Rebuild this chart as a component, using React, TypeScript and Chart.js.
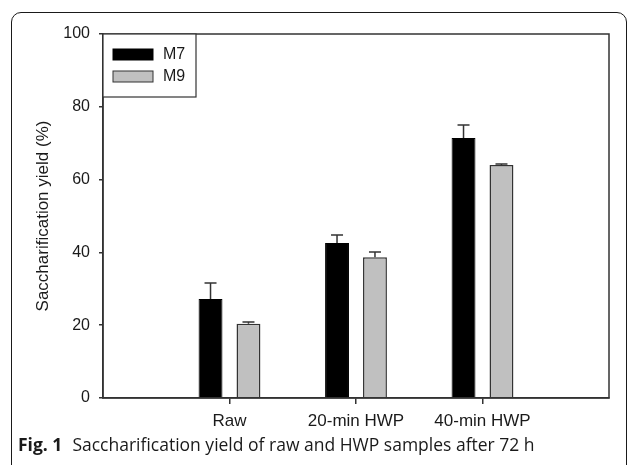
import React, { useEffect, useRef } from "react";
import { Chart, registerables } from "chart.js";

Chart.register(...registerables);

const categories = ["Raw", "20-min HWP", "40-min HWP"];
const m7Values = [27.2, 42.6, 71.4];
const m7Errors = [4.4, 2.2, 3.6];
const m9Values = [20.4, 38.7, 64.0];
const m9Errors = [0.5, 1.4, 0.3];
const seriesNames = ["M7", "M9"];
const yMin = 0;
const yMax = 100;
const yStep = 20;

const AXIS_COLOR = "#333333";
const FONT = "'Liberation Sans', Arial, sans-serif";

export default function App() {
  const canvasRef = useRef<HTMLCanvasElement | null>(null);

  useEffect(() => {
    const canvas = canvasRef.current;
    if (!canvas) return;

    const labels = ["", ...categories, ""];
    const pad = (arr: number[]) => [null, ...arr, null];
    const errs = [pad(m7Errors), pad(m9Errors)];

    const frameBox = {
      id: "frameBox",
      afterDatasetsDraw(chart: any) {
        const { ctx, chartArea } = chart;
        const yScale = chart.scales.y;
        ctx.save();
        ctx.strokeStyle = AXIS_COLOR;
        ctx.lineWidth = 1.5;
        chart.data.datasets.forEach((ds: any, di: number) => {
          const meta = chart.getDatasetMeta(di);
          meta.data.forEach((bar: any, j: number) => {
            const v = ds.data[j];
            const e = errs[di][j];
            if (v == null || e == null) return;
            const top = yScale.getPixelForValue(v + e);
            const x = bar.x;
            ctx.beginPath();
            ctx.moveTo(x, bar.y);
            ctx.lineTo(x, top);
            ctx.moveTo(x - 6, top);
            ctx.lineTo(x + 6, top);
            ctx.stroke();
          });
        });
        ctx.lineWidth = 1.5;
        ctx.strokeRect(
          chartArea.left,
          chartArea.top,
          chartArea.right - chartArea.left,
          chartArea.bottom - chartArea.top
        );
        const lx = chartArea.left;
        const ly = chartArea.top;
        ctx.fillStyle = "#ffffff";
        ctx.fillRect(lx, ly, 93, 63);
        ctx.strokeStyle = AXIS_COLOR;
        ctx.lineWidth = 1.2;
        ctx.strokeRect(lx, ly, 93, 63);
        const colors = ["#000000", "#c0c0c0"];
        const rows = [15, 37];
        rows.forEach((ry, i) => {
          ctx.fillStyle = colors[i];
          ctx.fillRect(lx + 10, ly + ry, 40, 11);
          ctx.strokeStyle = i === 0 ? "#000000" : AXIS_COLOR;
          ctx.lineWidth = 1;
          ctx.strokeRect(lx + 10, ly + ry, 40, 11);
          ctx.fillStyle = "#1a1a1a";
          ctx.font = `16px ${FONT}`;
          ctx.textBaseline = "middle";
          ctx.textAlign = "left";
          ctx.fillText(seriesNames[i], lx + 60, ly + ry + 6);
        });
        ctx.restore();
      },
    };

    const tickVisible = (c: any) =>
      c.index >= 1 && c.index <= categories.length ? AXIS_COLOR : "rgba(0,0,0,0)";

    const chart = new Chart(canvas, {
      type: "bar",
      data: {
        labels,
        datasets: [
          {
            label: seriesNames[0],
            data: pad(m7Values) as any,
            backgroundColor: "#000000",
            borderColor: "#000000",
            borderWidth: 1,
            categoryPercentage: 0.6,
            barPercentage: 0.63,
          },
          {
            label: seriesNames[1],
            data: pad(m9Values) as any,
            backgroundColor: "#c0c0c0",
            borderColor: AXIS_COLOR,
            borderWidth: 1.5,
            categoryPercentage: 0.6,
            barPercentage: 0.63,
          },
        ],
      },
      options: {
        animation: false,
        responsive: false,
        layout: { padding: { top: 34, right: 20, left: 0, bottom: 0 } },
        plugins: {
          legend: { display: false },
          tooltip: { enabled: false },
        },
        scales: {
          x: {
            type: "category",
            offset: false,
            grid: {
              offset: false,
              drawOnChartArea: false,
              tickLength: 6,
              color: tickVisible,
              tickColor: tickVisible,
              lineWidth: 1.5,
            },
            border: { display: true, color: AXIS_COLOR, width: 1.5 },
            ticks: {
              autoSkip: false,
              maxRotation: 0,
              padding: 7,
              color: "#1a1a1a",
              font: { family: FONT, size: 17 },
            },
            afterFit(scale: any) {
              scale.height = 67;
            },
          },
          y: {
            min: yMin,
            max: yMax,
            grid: {
              drawOnChartArea: false,
              tickLength: 4,
              color: AXIS_COLOR,
              lineWidth: 1.5,
            },
            border: { display: true, color: AXIS_COLOR, width: 1.5 },
            ticks: {
              stepSize: yStep,
              padding: 9,
              color: "#1a1a1a",
              font: { family: FONT, size: 16 },
            },
            title: {
              display: true,
              text: "Saccharification yield (%)",
              color: "#1a1a1a",
              font: { family: FONT, size: 17 },
              padding: { top: 33, bottom: 0 },
            },
            afterFit(scale: any) {
              scale.width = 103;
            },
          },
        },
      },
      plugins: [frameBox],
    });

    return () => chart.destroy();
  }, []);

  return (
    <div
      style={{
        position: "fixed",
        left: 0,
        top: 0,
        width: 629,
        height: 465,
        overflow: "hidden",
        background: "#ffffff",
      }}
    >
      <div
        style={{
          position: "absolute",
          left: 11,
          top: 12,
          width: 616,
          height: 520,
          border: "1.5px solid #1a1a1a",
          borderRadius: 10,
          boxSizing: "border-box",
        }}
      />
      <canvas
        ref={canvasRef}
        width={629}
        height={465}
        style={{ position: "absolute", left: 0, top: 0, width: 629, height: 465 }}
      />
      <div
        style={{
          position: "absolute",
          left: 18,
          top: 432,
          fontFamily: "'Open Sans', 'Noto Sans', sans-serif",
          fontSize: 17.5,
          lineHeight: "24px",
          color: "#1a1a1a",
          whiteSpace: "nowrap",
        }}
      >
        <span style={{ fontWeight: 700 }}>Fig. 1</span>
        <span style={{ marginLeft: 10 }}>Saccharification yield of raw and HWP samples after 72 h</span>
      </div>
    </div>
  );
}
